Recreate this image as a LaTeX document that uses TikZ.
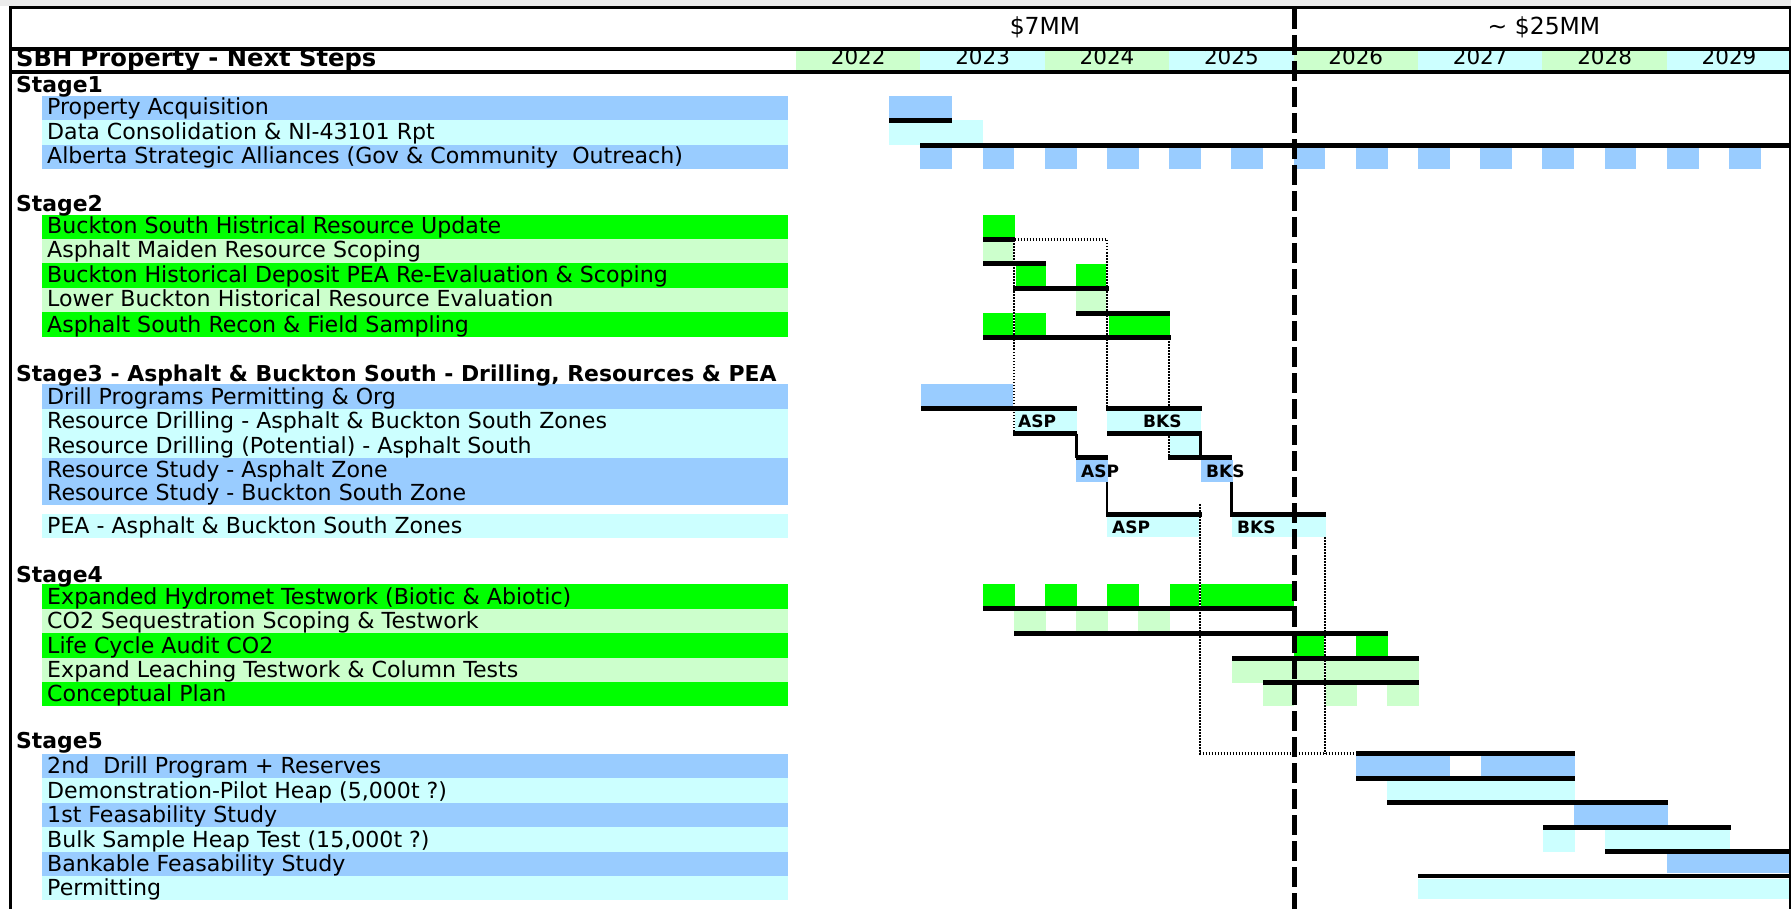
\documentclass[tikz,border=0pt]{standalone}
\usepackage{fontspec}
\setmainfont{DejaVu Sans}
\definecolor{cblue}{HTML}{99CCFF}
\definecolor{ccyan}{HTML}{CCFFFF}
\definecolor{cgreen}{HTML}{00FF00}
\definecolor{clgreen}{HTML}{CCFFCC}
\newcommand{\rbox}[5]{\fill[#1] (#2,#3) rectangle (#4,#5);}
\newcommand{\tline}[3]{\draw[blk] (#1,#3) -- (#2,#3);}
\begin{document}
\begin{tikzpicture}[x=1pt,y=-1pt,
 lbl/.style={anchor=base west,inner sep=0pt,font=\fontsize{22.1}{24}\selectfont},
 ttl/.style={anchor=base west,inner sep=0pt,font=\bfseries\fontsize{21.9}{24}\selectfont},
 tag/.style={anchor=base west,inner sep=0pt,font=\bfseries\fontsize{17}{20}\selectfont},
 yr/.style={anchor=base,inner sep=0pt,font=\fontsize{21.5}{24}\selectfont},
 hdr/.style={anchor=base,inner sep=0pt,font=\fontsize{23.5}{26}\selectfont},
 blk/.style={line width=4.8pt},
 stp/.style={line width=2.6pt},
 dotl/.style={line width=2.4pt,dash pattern=on 1.5pt off 1.5pt,preaction={draw=white,solid,line width=2.4pt}},
 dashv/.style={line width=5pt,dash pattern=on 20pt off 6pt}]
\useasboundingbox (0,0) rectangle (1791,909);
\fill[white] (0,0) rectangle (1791,909);
\fill[black!8] (0,0) rectangle (1791,6);

% ---------- year band ----------
\rbox{clgreen}{796}{51}{920.4}{70}
\rbox{ccyan}{920.4}{51}{1044.8}{70}
\rbox{clgreen}{1044.8}{51}{1169.2}{70}
\rbox{ccyan}{1169.2}{51}{1293.6}{70}
\rbox{clgreen}{1293.6}{51}{1418}{70}
\rbox{ccyan}{1418}{51}{1542.4}{70}
\rbox{clgreen}{1542.4}{51}{1666.8}{70}
\rbox{ccyan}{1666.8}{51}{1791}{70}
\node[yr] (y22) at (858.2,65) {2022};
\node[yr] (y23) at (982.6,65) {2023};
\node[yr] (y24) at (1107,65) {2024};
\node[yr] (y25) at (1231.4,65) {2025};
\node[yr] (y26) at (1355.8,65) {2026};
\node[yr] (y27) at (1480.2,65) {2027};
\node[yr] (y28) at (1604.6,65) {2028};
\node[yr] (y29) at (1729,65) {2029};
\node[hdr] (c7) at (1045,35) {\$7MM};
\node[hdr] (c25) at (1544,35) {\textasciitilde{} \$25MM};
\node[anchor=base west,inner sep=0pt,font=\bfseries\fontsize{24.2}{26}\selectfont] (title) at (16,67) {SBH Property - Next Steps};

% ---------- label column ----------
\rbox{cblue}{42}{96}{788}{120}
\rbox{ccyan}{42}{120}{788}{145}
\rbox{cblue}{42}{145}{788}{169}
\rbox{cgreen}{42}{215}{788}{239}
\rbox{clgreen}{42}{239}{788}{263}
\rbox{cgreen}{42}{263}{788}{288}
\rbox{clgreen}{42}{288}{788}{312}
\rbox{cgreen}{42}{312}{788}{337}
\rbox{cblue}{42}{384}{788}{409}
\rbox{ccyan}{42}{409}{788}{458}
\rbox{cblue}{42}{458}{788}{505}
\rbox{ccyan}{42}{514}{788}{538}
\rbox{cgreen}{42}{584}{788}{609}
\rbox{clgreen}{42}{609}{788}{633}
\rbox{cgreen}{42}{633}{788}{658}
\rbox{clgreen}{42}{658}{788}{682}
\rbox{cgreen}{42}{682}{788}{706}
\rbox{cblue}{42}{754}{788}{778}
\rbox{ccyan}{42}{778}{788}{803}
\rbox{cblue}{42}{803}{788}{827}
\rbox{ccyan}{42}{827}{788}{852}
\rbox{cblue}{42}{852}{788}{876}
\rbox{ccyan}{42}{876}{788}{900}

\node[ttl] (s1) at (16,93) {Stage1};
\node[lbl] (t11) at (47,115) {Property Acquisition};
\node[lbl] (t12) at (47,140) {Data Consolidation \& NI-43101 Rpt};
\node[lbl] (t13) at (47,164) {Alberta Strategic Alliances (Gov \& Community\ \ Outreach)};
\node[ttl] (s2) at (16,212) {Stage2};
\node[lbl] (t21) at (47,234) {Buckton South Histrical Resource Update};
\node[lbl] (t22) at (47,258) {Asphalt Maiden Resource Scoping};
\node[lbl] (t23) at (47,283) {Buckton Historical Deposit PEA Re-Evaluation \& Scoping};
\node[lbl] (t24) at (47,307) {Lower Buckton Historical Resource Evaluation};
\node[lbl] (t25) at (47,332) {Asphalt South Recon \& Field Sampling};
\node[ttl] (s3) at (16,381) {Stage3 - Asphalt \& Buckton South - Drilling, Resources \& PEA};
\node[lbl] (t31) at (47,404) {Drill Programs Permitting \& Org};
\node[lbl] (t32) at (47,428.5) {Resource Drilling - Asphalt \& Buckton South Zones};
\node[lbl] (t33) at (47,453) {Resource Drilling (Potential) - Asphalt South};
\node[lbl] (t34) at (47,477) {Resource Study - Asphalt Zone};
\node[lbl] (t35) at (47,500) {Resource Study - Buckton South Zone};
\node[lbl] (t36) at (47,533) {PEA - Asphalt \& Buckton South Zones};
\node[ttl] (s4) at (16,582) {Stage4};
\node[lbl] (t41) at (47,604) {Expanded Hydromet Testwork (Biotic \& Abiotic)};
\node[lbl] (t42) at (47,628) {CO2 Sequestration Scoping \& Testwork};
\node[lbl] (t43) at (47,653) {Life Cycle Audit CO2};
\node[lbl] (t44) at (47,677) {Expand Leaching Testwork \& Column Tests};
\node[lbl] (t45) at (47,701) {Conceptual Plan};
\node[ttl] (s5) at (16,748) {Stage5};
\node[lbl] (t51) at (47,773) {2nd\ \ Drill Program + Reserves};
\node[lbl] (t52) at (47,798) {Demonstration-Pilot Heap (5,000t ?)};
\node[lbl] (t53) at (47,822) {1st Feasability Study};
\node[lbl] (t54) at (47,847) {Bulk Sample Heap Test (15,000t ?)};
\node[lbl] (t55) at (47,871) {Bankable Feasability Study};
\node[lbl] (t56) at (47,895) {Permitting};

% ---------- gantt bars ----------
% stage 1
\rbox{cblue}{889}{96}{952}{118}
\rbox{ccyan}{889}{120.5}{983}{145}
\foreach \yy in {920.4,1044.8,1169.2,1293.6,1418,1542.4,1666.8}{
  \fill[cblue] (\yy,148) rectangle ++(31.8,21);
  \fill[cblue] (\yy+62.2,148) rectangle ++(31.8,21);}
% stage 2
\rbox{cgreen}{983}{215}{1015}{237}
\rbox{clgreen}{983}{242}{1013}{261}
\rbox{cgreen}{1016}{264}{1046}{286}
\rbox{cgreen}{1076}{264}{1106}{286}
\rbox{clgreen}{1076}{291}{1106}{311}
\rbox{cgreen}{983}{313}{1046}{335}
\rbox{cgreen}{1109}{313}{1170}{335}
% stage 3
\rbox{cblue}{921}{384}{1013}{406}
\rbox{ccyan}{1013}{411}{1077}{431}
\rbox{ccyan}{1107}{411}{1201}{431}
\rbox{ccyan}{1170}{436}{1200}{455}
\rbox{cblue}{1076}{460}{1108}{482}
\rbox{cblue}{1201}{460}{1233}{482}
\rbox{ccyan}{1107}{517}{1200}{537}
\rbox{ccyan}{1232}{517}{1326}{537}
% stage 4
\rbox{cgreen}{983}{584}{1015}{606}
\rbox{cgreen}{1045}{584}{1077}{606}
\rbox{cgreen}{1107}{584}{1139}{606}
\rbox{cgreen}{1170}{584}{1294}{606}
\rbox{clgreen}{1014}{611}{1046}{631}
\rbox{clgreen}{1076}{611}{1108}{631}
\rbox{clgreen}{1138}{611}{1170}{631}
\rbox{cgreen}{1294}{636}{1325}{656}
\rbox{cgreen}{1356}{636}{1388}{656}
\rbox{clgreen}{1232}{661}{1419}{683}
\rbox{clgreen}{1263}{685}{1294}{706}
\rbox{clgreen}{1326}{685}{1357}{706}
\rbox{clgreen}{1387}{685}{1419}{706}
% stage 5
\rbox{cblue}{1356}{756}{1450}{776}
\rbox{cblue}{1481}{756}{1575}{776}
\rbox{ccyan}{1387}{781}{1575}{800}
\rbox{cblue}{1574}{805}{1668}{825}
\rbox{ccyan}{1543}{830}{1575}{852}
\rbox{ccyan}{1605}{830}{1730}{852}
\rbox{cblue}{1667}{854}{1791}{873}
\rbox{ccyan}{1418}{879}{1791}{899}

% ---------- dotted links ----------
\coordinate (d1a) at (1014,431);
\coordinate (d1b) at (1014,239.5);
\coordinate (d1c) at (1107,239.5);
\coordinate (d1d) at (1107,406);
\draw[dotl] (d1a) -- (d1b) -- (d1c) -- (d1d);
\coordinate (d2a) at (1169,338);
\coordinate (d2b) at (1169,406);
\coordinate (d2c) at (1169,436);
\coordinate (d2d) at (1169,455);
\draw[dotl] (d2a) -- (d2b);
\draw[dotl] (d2c) -- (d2d);
\coordinate (d3a) at (1200,504);
\coordinate (d3b) at (1200,753.5);
\coordinate (d3c) at (1356,753.5);
\draw[dotl] (d3a) -- (d3b) -- (d3c);
\coordinate (d4a) at (1325,537);
\coordinate (d4b) at (1325,753.5);
\draw[dotl] (d4a) -- (d4b);

% ---------- black task lines ----------
\tline{889}{952}{120.5}
\tline{920}{1791}{145.5}
\tline{983}{1015}{239.5}
\tline{983}{1046}{263.5}
\tline{1013}{1109}{288.5}
\tline{1076}{1170}{313.5}
\tline{983}{1171}{337.5}
\tline{921}{1077}{408.5}
\tline{1106}{1202}{408.5}
\tline{1013}{1077}{433.5}
\tline{1107}{1202}{433.5}
\draw[stp] (1076.5,433.5) -- (1076.5,457.5);
\draw[stp] (1200.5,433.5) -- (1200.5,457.5);
\tline{1076}{1108}{457.5}
\tline{1168}{1232}{457.5}
\draw[stp] (1107,482) -- (1107,514.5);
\draw[stp] (1231.5,482) -- (1231.5,514.5);
\tline{1106}{1202}{514.5}
\tline{1230}{1326}{514.5}
\tline{983}{1297}{608.5}
\tline{1014}{1388}{633.5}
\tline{1232}{1419}{658.5}
\tline{1263}{1419}{682.5}
\tline{1356}{1575}{753.5}
\tline{1356}{1575}{778.5}
\tline{1387}{1668}{802.5}
\tline{1543}{1731}{827.5}
\tline{1605}{1791}{851.5}
\tline{1418}{1791}{876}

\node[tag] (a1) at (1018,427) {ASP};
\node[tag] (b1) at (1143,427) {BKS};
\node[tag] (a2) at (1081,477) {ASP};
\node[tag] (b2) at (1206,477) {BKS};
\node[tag] (a3) at (1112,533) {ASP};
\node[tag] (b3) at (1237,533) {BKS};

% ---------- frame ----------
\draw[line width=4pt] (9,49) -- (1791,49);
\draw[line width=4pt] (9,72) -- (1791,72);
\draw[line width=3.5pt] (9,7.5) -- (1791,7.5);
\draw[line width=3.5pt] (10.5,6) -- (10.5,909);
\draw[line width=2.5pt] (1789.8,6) -- (1789.8,909);
\draw[dashv] (1294,9) -- (1294,909);
\end{tikzpicture}
\end{document}
